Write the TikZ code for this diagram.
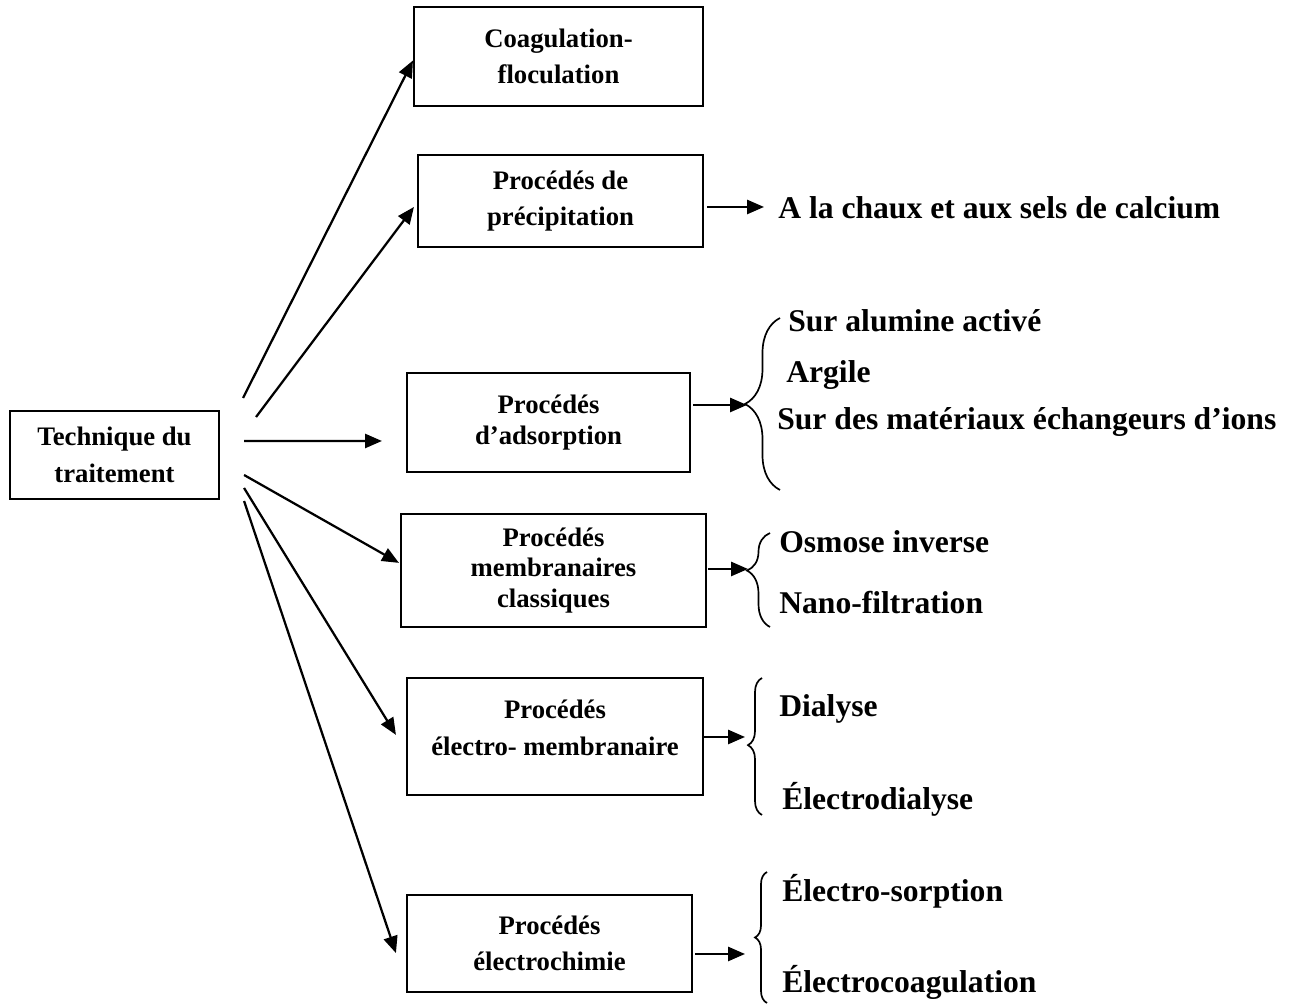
\documentclass[tikz,border=0pt]{standalone}
\usepackage{fontspec}
\setmainfont{Liberation Serif}
\usetikzlibrary{positioning}
\usetikzlibrary{calc}
\usetikzlibrary{arrows.meta, decorations.pathreplacing}
\newcommand{\procfont}{\fontsize{19}{26}\selectfont\bfseries}
\newcommand{\tightfont}{\fontsize{19}{21.5}\selectfont\bfseries}
\newcommand{\sidefont}{\fontsize{22.5}{27}\selectfont\bfseries}
\tikzstyle{box} = [rectangle, draw=black, line width=1.5pt, align=center, font=\procfont]
\tikzstyle{arrow} = [line width=1.6pt, -{Triangle[length=12pt, width=10pt]}]
\tikzstyle{item} = [anchor=base west, inner sep=0pt, font=\sidefont]
\tikzstyle{bracket} = [decorate, line width=1.2pt]

\begin{document}
\begin{tikzpicture}
    \useasboundingbox (0,0) rectangle (32.725,25.125);

    % --- treatment technique on the left ---
    \node[box, minimum width=5.225cm, minimum height=2.2cm] at (2.8625, 13.75) (technique) {Technique du\\traitement};

    % --- the six process boxes ---
    \node[box, minimum width=7.225cm, minimum height=2.475cm] at (13.9625, 23.7125) (coagulation) {Coagulation-\\floculation};
    \node[box, minimum width=7.125cm, minimum height=2.3cm] at (14.0125, 20.1) (precipitation) {Procédés de\\précipitation};
    \node[box, font=\tightfont, minimum width=7.075cm, minimum height=2.475cm] at (13.7125, 14.5625) (adsorption) {Procédés\\d’adsorption};
    \node[box, font=\tightfont, minimum width=7.625cm, minimum height=2.825cm] at (13.8375, 10.8625) (membranes) {Procédés\\membranaires\\classiques};

    % electro-membrane box, text sits a bit above the middle
    \node[box, minimum width=7.4cm, minimum height=2.925cm] at (13.875, 6.7125) (electromembrane) {};
    \node[font=\procfont, align=center] at ($(electromembrane.center) + (0cm, 0.21cm)$) (electromembrane_text) {Procédés\\électro- membranaire};

    \node[box, minimum width=7.125cm, minimum height=2.425cm] at (13.7375, 1.5375) (electrochemistry) {Procédés\\électrochimie};

    % arrows from technique to each process
    \draw[arrow] ($(technique.east) + (0.575cm, 1.425cm)$) -- ($(coagulation.west) + (0cm, -0.1cm)$);
    \draw[arrow] ($(technique.east) + (0.9cm, 0.95cm)$) -- ($(precipitation.west) + (-0.075cm, -0.15cm)$);
    \draw[arrow] ($(technique.east) + (0.6cm, 0.35cm)$) -- ($(adsorption.west) + (-0.6cm, -0.4625cm)$);
    \draw[arrow] ($(technique.east) + (0.6cm, -0.5cm)$) -- ($(membranes.west) + (-0.025cm, 0.19cm)$);
    \draw[arrow] ($(technique.east) + (0.6cm, -0.825cm)$) -- ($(electromembrane.west) + (-0.25cm, 0.04cm)$);
    \draw[arrow] ($(technique.east) + (0.6cm, -1.15cm)$) -- ($(electrochemistry.west) + (-0.25cm, -0.24cm)$);

    % --- precipitation: lime ---
    \coordinate (chaux_in) at (19.1, 19.95);
    \node[item] at (19.45, 19.65) (chaux) {A la chaux et aux sels de calcium};
    \draw[arrow, shorten <=0.08cm] (precipitation.east |- chaux_in) -- (chaux_in);

    % --- adsorption: brace with three items ---
    \draw[bracket, decoration={brace, amplitude=0.875cm, aspect=0.5}] (19.5, 12.875) -- (19.5, 17.175);
    \coordinate (adsorption_in) at (18.675, 15.0);
    \draw[arrow, shorten <=0.05cm] (adsorption.east |- adsorption_in) -- (adsorption_in);
    \node[item] at (19.7, 16.825) (alumine) {Sur alumine activé};
    \node[item] at (19.65, 15.55) (argile) {Argile};
    \node[item] at (19.425, 14.375) (echangeurs) {Sur des matériaux échangeurs d’ions};

    % --- classic membranes ---
    \draw[bracket, decoration={brace, amplitude=0.575cm, aspect=0.6}] (19.25, 9.45) -- (19.25, 11.8);
    \coordinate (membranes_in) at (18.7, 10.9);
    \draw[arrow, shorten <=0.02cm] (membranes.east |- membranes_in) -- (membranes_in);
    \node[item] at (19.475, 11.3) (osmose) {Osmose inverse};
    \node[item] at (19.475, 9.775) (nano) {Nano-filtration};

    % --- electro-membranes ---
    \draw[bracket, decoration={brace, amplitude=0.35cm, aspect=0.51}] (19.05, 4.75) -- (19.05, 8.175);
    \coordinate (electromembrane_in) at (18.625, 6.7);
    \draw[arrow] (electromembrane.east |- electromembrane_in) -- (electromembrane_in);
    \node[item] at (19.475, 7.2) (dialyse) {Dialyse};
    \node[item] at (19.55, 4.875) (electrodialyse) {Électrodialyse};

    % --- electrochemistry ---
    \draw[bracket, decoration={brace, amplitude=0.3cm, aspect=0.5}] (19.175, 0.05) -- (19.175, 3.325);
    \coordinate (electrochemistry_in) at (18.625, 1.275);
    \draw[arrow, shorten <=0.05cm] (electrochemistry.east |- electrochemistry_in) -- (electrochemistry_in);
    \node[item] at (19.55, 2.575) (sorption) {Électro-sorption};
    \node[item] at (19.55, 0.3) (electrocoagulation) {Électrocoagulation};

\end{tikzpicture}
\end{document}
